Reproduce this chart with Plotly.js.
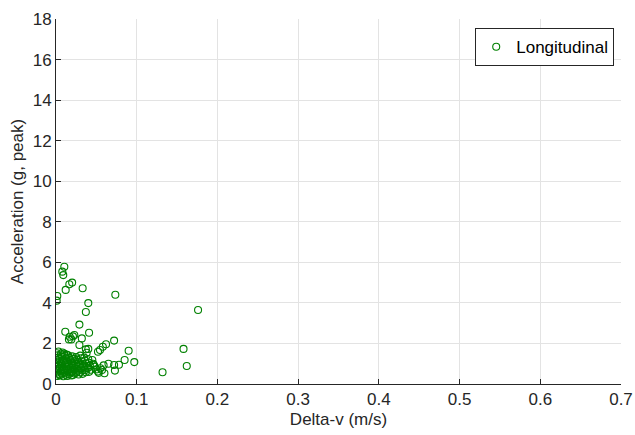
<!DOCTYPE html>
<html>
<head>
<meta charset="utf-8">
<script src="https://cdn.plot.ly/plotly-3.0.1.min.js"></script>
<style>html,body{margin:0;padding:0;background:#fff;}#chart{width:635px;height:435px;}</style>
</head>
<body>
<div id="chart"></div>
<script>
// Sparse points (delta-v m/s, acceleration g)
const deltaVSparse = [0.0103,0.0078,0.009,0.020,0.0165,0.012,0.033,0.0735,0.0016,0.0008,0.040,0.037,0.176,0.029,0.0115,0.041,0.0227,0.017,0.021,0.016,0.019,0.032,0.072,0.029,0.062,0.058,0.037,0.040,0.0545,0.052,0.090,0.158,0.038,0.097,0.085,0.078,0.072,0.073,0.065,0.059,0.057,0.060,0.162,0.132,0.047];
const accelSparse  = [5.78,5.54,5.37,5.00,4.92,4.64,4.72,4.40,4.34,4.11,3.99,3.55,3.65,2.93,2.58,2.53,2.42,2.33,2.35,2.20,2.20,2.25,2.14,1.92,1.96,1.84,1.71,1.73,1.68,1.59,1.64,1.73,1.54,1.08,1.18,0.95,0.94,0.66,1.00,0.92,0.69,0.53,0.89,0.58,0.94];
// Dense cluster near the origin
const deltaVDense = [0.001,0.002,0.003,0.001,0.002,0.004,0.001,0.003,0.002,0.001,0.004,0.002,
0.006,0.007,0.005,0.008,0.006,0.007,0.005,0.008,0.006,0.007,0.005,0.009,
0.010,0.011,0.012,0.010,0.013,0.011,0.012,0.010,0.013,0.011,0.012,0.014,
0.015,0.016,0.017,0.015,0.018,0.016,0.017,0.015,0.018,0.016,0.019,
0.020,0.021,0.022,0.020,0.023,0.021,0.022,0.020,0.023,0.021,
0.025,0.026,0.027,0.025,0.028,0.026,0.027,0.025,0.028,
0.030,0.031,0.032,0.030,0.033,0.031,0.032,0.030,0.033,
0.035,0.036,0.037,0.035,0.038,0.036,0.037,
0.040,0.041,0.042,0.040,0.043,0.041,
0.045,0.046,0.048,0.050,0.052,0.055,0.053,0.003,0.008,0.013];
const accelDense = [1.52,1.41,1.30,1.18,1.05,0.95,0.85,0.76,0.66,0.57,0.48,0.40,
1.47,1.35,1.22,1.12,1.01,0.90,0.80,0.71,0.62,0.52,0.43,0.38,
1.50,1.38,1.26,1.15,1.05,0.96,0.86,0.74,0.65,0.55,0.46,0.40,
1.42,1.30,1.19,1.08,0.99,0.88,0.78,0.68,0.58,0.49,0.42,
1.36,1.24,1.12,1.02,0.92,0.81,0.70,0.61,0.52,0.44,
1.33,1.20,1.09,0.98,0.87,0.76,0.66,0.56,0.47,
1.40,1.27,1.12,1.00,0.89,0.78,0.67,0.58,0.50,
1.30,1.15,1.02,0.90,0.79,0.68,0.58,
1.22,1.05,0.92,0.80,0.70,0.60,
1.18,1.00,0.85,0.72,0.62,0.78,0.55,1.60,1.55,1.45];

const deltaV = deltaVSparse.concat(deltaVDense);
const accel = accelSparse.concat(accelDense);

const axisColor = '#262626';
const gridColor = '#e3e3e3';
const fontFam = 'Liberation Sans, Arial, Helvetica, sans-serif';

const trace = {
  x: deltaV, y: accel, type: 'scatter', mode: 'markers', name: 'Longitudinal',
  marker: {symbol: 'circle-open', size: 7, color: '#008000', line: {width: 1.1, color: '#008000'}}
};

const layout = {
  width: 635, height: 435,
  margin: {l: 56, r: 14, t: 19, b: 51},
  paper_bgcolor: '#fff', plot_bgcolor: '#fff',
  font: {family: fontFam, size: 17, color: axisColor},
  showlegend: true,
  legend: {x: 0.988, xanchor: 'right', y: 0.975, yanchor: 'top', bordercolor: axisColor, borderwidth: 1,
           bgcolor: '#fff', font: {size: 17, color: '#000'}},
  xaxis: {range: [0, 0.7], tickvals: [0,0.1,0.2,0.3,0.4,0.5,0.6,0.7], ticktext: ['0','0.1','0.2','0.3','0.4','0.5','0.6','0.7'],
          tickfont: {size: 17},
          showgrid: true, gridcolor: gridColor, zeroline: false, showline: true, linecolor: axisColor, linewidth: 1,
          ticks: 'inside', ticklen: 5, tickcolor: axisColor, title: {text: 'Delta-v (m/s)', font: {size: 17}, standoff: 4}},
  yaxis: {range: [0, 18], tickvals: [0,2,4,6,8,10,12,14,16,18],
          tickfont: {size: 17},
          showgrid: true, gridcolor: gridColor, zeroline: false, showline: true, linecolor: axisColor, linewidth: 1,
          ticks: 'inside', ticklen: 5, tickcolor: axisColor, title: {text: 'Acceleration (g, peak)', font: {size: 17}, standoff: 4}}
};

Plotly.newPlot('chart', [trace], layout, {displayModeBar: false, staticPlot: true});
</script>
</body>
</html>
